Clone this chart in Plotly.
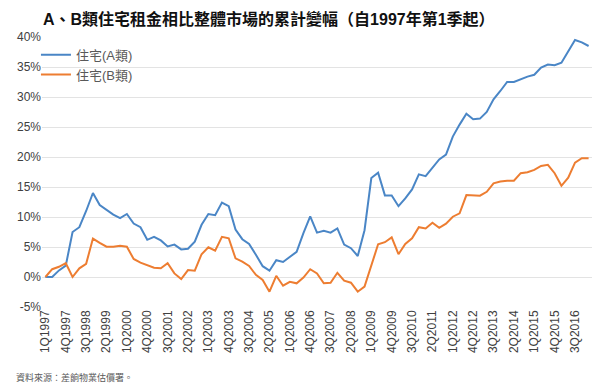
import plotly.graph_objects as go

years = list(range(1997, 2018))
quarters = [f"{q}Q{y}" for y in years for q in range(1, 5)][:81]

series_a = [0, 0, 1.1, 1.9, 7.5, 8.3, 11.0, 14.0, 12.0, 11.2, 10.4, 9.8, 10.5, 8.9, 8.3, 6.2, 6.7, 6.1, 5.1,
            5.4, 4.6, 4.7, 5.9, 8.7, 10.5, 10.3, 12.4, 11.8, 7.9, 6.3, 5.5, 3.7, 1.8, 1.05, 2.8, 2.5, 3.3, 4.2, 7.3,
            10.1, 7.4, 7.7, 7.4, 8.1, 5.4, 4.8, 3.5, 7.8, 16.5, 17.4, 13.6, 13.6, 11.8, 13.1, 14.6, 17.1, 16.8, 18.2, 19.6,
            20.4, 23.4, 25.4, 27.2, 26.3, 26.4, 27.5, 29.6, 31.0, 32.5, 32.5, 33.0, 33.4, 33.7, 34.9, 35.4, 35.3, 35.7,
            37.6, 39.5, 39.1, 38.5]
series_b = [0, 1.3, 1.7, 2.3, 0.0, 1.45, 2.2, 6.4, 5.7, 5.05, 5.05, 5.2, 5.05, 3.0, 2.4, 2.0, 1.55, 1.45, 2.3,
            0.6, -0.35, 1.15, 1.05, 3.8, 4.95, 4.4, 6.7, 6.45, 3.1, 2.55, 1.85, 0.35, -0.5, -2.45, 0.2, -1.45, -0.8, -1.05, -0.1,
            1.3, 0.6, -1.05, -0.95, 0.7, -0.6, -0.95, -2.45, -1.6, 2.0, 5.45, 5.8, 6.6, 3.8, 5.5, 6.45, 8.3, 8.1, 9.05, 8.2,
            8.9, 10.05, 10.6, 13.65, 13.55, 13.55, 14.2, 15.6, 15.9, 16.05, 16.05, 17.3, 17.45, 17.85, 18.5, 18.7, 17.3,
            15.2, 16.55, 19.05, 19.8, 19.8]
tick_labels = quarters[::3]
y_ticks = [-5, 0, 5, 10, 15, 20, 25, 30, 35, 40]
y_tick_text = [f"{v}%" for v in y_ticks]

title_text = "A、B類住宅租金相比整體市場的累計變幅（自1997年第1季起）"
source_text = "資料來源：差餉物業估價署。"
name_a = "住宅(A類)"
name_b = "住宅(B類)"

FONT = "Arial, 'Liberation Sans', 'Noto Sans CJK TC', sans-serif"

fig = go.Figure()
fig.add_trace(go.Scatter(x=quarters, y=series_a, mode="lines", name=name_a,
                         line=dict(color="#4a86c6", width=2)))
fig.add_trace(go.Scatter(x=quarters, y=series_b, mode="lines", name=name_b,
                         line=dict(color="#ed7d31", width=2)))

fig.update_layout(
    width=600, height=390,
    margin=dict(l=42, r=8, t=37, b=83, autoexpand=False),
    paper_bgcolor="white", plot_bgcolor="white",
    font=dict(family=FONT, size=12, color="#404040"),
    title=dict(text="<b>" + title_text + "</b>", x=43/600, xanchor="left",
               y=1 - 19/390, yanchor="middle", xref="container", yref="container",
               font=dict(size=16, color="#111111", family=FONT)),
    showlegend=True,
    legend=dict(x=-0.011, y=0.99, xanchor="left", yanchor="top", bgcolor="rgba(0,0,0,0)",
                font=dict(size=13, color="#595959"), tracegroupgap=0, itemwidth=30),
    xaxis=dict(type="category", tickmode="array", tickvals=tick_labels, ticktext=tick_labels,
               tickangle=-90, showgrid=False, showline=False, ticks="", automargin=False,
               tickfont=dict(size=12, color="#404040"), range=[-0.5, len(quarters) - 0.5]),
    yaxis=dict(range=[-5, 40], tickmode="array", tickvals=y_ticks, ticktext=y_tick_text,
               showgrid=True, automargin=False,
               gridcolor="#e3e3e3", gridwidth=1, zeroline=False, showline=False,
               tickfont=dict(size=12, color="#404040")),
    annotations=[dict(text=source_text, x=(14 - 42) / 550, y=-(377 - 307) / 270,
                      xref="paper", yref="paper",
                      xanchor="left", yanchor="middle", showarrow=False,
                      font=dict(size=9, color="#595959", family="'Noto Sans CJK TC', sans-serif"))],
)

fig.write_html("out.html", config={"displayModeBar": False},
               post_script="document.body.style.margin='0px';")
